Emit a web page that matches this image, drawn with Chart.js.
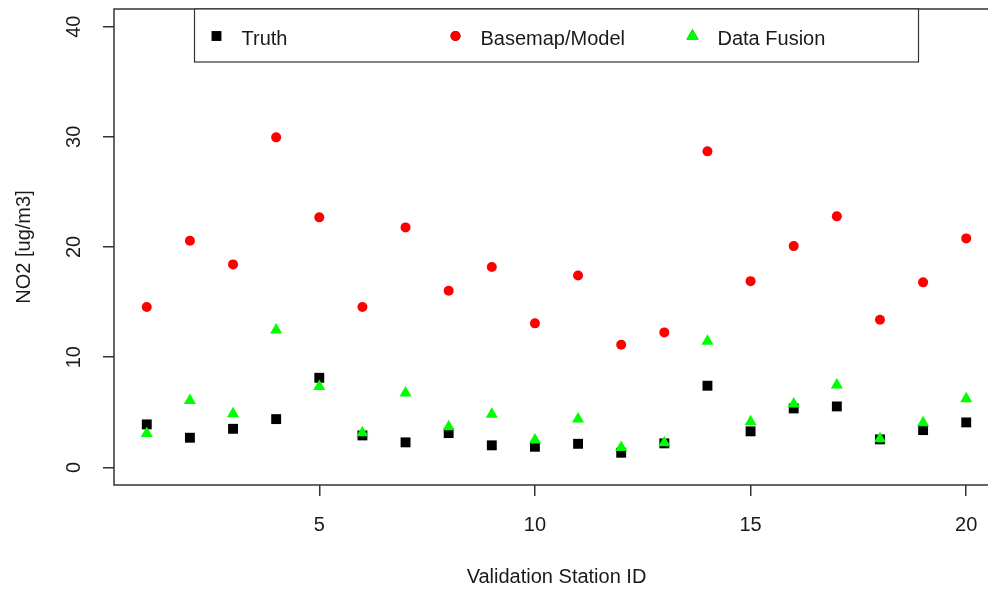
<!DOCTYPE html>
<html>
<head>
<meta charset="utf-8">
<script src="https://cdn.jsdelivr.net/npm/chart.js@4"></script>
<style>
  html, body { margin: 0; padding: 0; background: #fff; overflow: hidden; }
</style>
</head>
<body>
<canvas id="myChart" width="1006" height="590"></canvas>
<script>
// NO2 per validation station
var stationIds = [1, 2, 3, 4, 5, 6, 7, 8, 9, 10, 11, 12, 13, 14, 15, 16, 17, 18, 19, 20];
var truth    = [3.9, 2.69, 3.5, 4.38, 8.13, 2.9, 2.27, 3.11, 2.0, 1.87, 2.14, 1.33, 2.18, 7.41, 3.27, 5.35, 5.53, 2.54, 3.38, 4.08];
var basemap  = [14.55, 20.56, 18.42, 29.95, 22.69, 14.55, 21.78, 16.03, 18.18, 13.07, 17.42, 11.13, 12.25, 28.68, 16.9, 20.08, 22.78, 13.4, 16.79, 20.78];
var fusion   = [3.08, 6.08, 4.87, 12.46, 7.35, 3.14, 6.75, 3.69, 4.81, 2.48, 4.39, 1.81, 2.24, 11.45, 4.14, 5.75, 7.47, 2.6, 4.05, 6.23];
var seriesNames = ['Truth', 'Basemap/Model', 'Data Fusion'];
var xTicks = [5, 10, 15, 20];
var yTicks = [0, 10, 20, 30, 40];

function toPoints(values) {
  return values.map(function (v, i) { return { x: stationIds[i], y: v }; });
}

var axisColor = '#333';
var textColor = '#1a1a1a';
var font = { family: "'Liberation Sans', Arial, sans-serif", size: 20 };

// legend box inside the plot, like R's legend("top", horiz = TRUE)
var boxLegend = {
  id: 'boxLegend',
  afterDatasetsDraw: function (chart) {
    var ctx = chart.ctx;
    var area = chart.chartArea;
    var cx = (area.left + area.right) / 2;
    var left = cx - 362, top = area.top, bottom = area.top + 53;
    var offsets = [22, 261, 498];
    ctx.save();
    ctx.fillStyle = '#fff';
    ctx.fillRect(left, top, 724, bottom - top);
    ctx.strokeStyle = axisColor;
    ctx.lineWidth = 1.2;
    ctx.strokeRect(left, top, 724, bottom - top);
    chart.data.datasets.forEach(function (ds, i) {
      var mx = left + offsets[i];
      Chart.helpers.drawPoint(ctx, {
        pointStyle: ds.pointStyle,
        radius: ds.pointRadius,
        rotation: 0,
        borderWidth: 0
      }, mx, top + 27);
      ctx.fillStyle = ds.backgroundColor;
      ctx.fill();
      ctx.fillStyle = textColor;
      ctx.font = font.size + 'px ' + font.family;
      ctx.textBaseline = 'alphabetic';
      ctx.textAlign = 'left';
      ctx.fillText(ds.label, mx + 25, top + 36);
    });
    ctx.restore();
  }
};

// plot frame
var frame = {
  id: 'frame',
  beforeDatasetsDraw: function (chart) {
    var a = chart.chartArea;
    var ctx = chart.ctx;
    ctx.save();
    ctx.strokeStyle = axisColor;
    ctx.lineWidth = 1.5;
    ctx.strokeRect(a.left, a.top, a.right - a.left, a.bottom - a.top);
    ctx.restore();
  }
};

var ctx = document.getElementById('myChart').getContext('2d');
var myChart = new Chart(ctx, {
  type: 'scatter',
  data: {
    datasets: [
      {
        label: seriesNames[0],
        data: toPoints(truth),
        pointStyle: 'rect',
        pointRadius: 7,
        backgroundColor: '#000000',
        borderColor: '#000000',
        borderWidth: 0,
        order: 2
      },
      {
        label: seriesNames[1],
        data: toPoints(basemap),
        pointStyle: 'circle',
        pointRadius: 5,
        backgroundColor: '#ff0000',
        borderColor: '#ff0000',
        borderWidth: 0,
        order: 1
      },
      {
        label: seriesNames[2],
        data: toPoints(fusion),
        pointStyle: 'triangle',
        pointRadius: 7,
        backgroundColor: '#00ff00',
        borderColor: '#00ff00',
        borderWidth: 0,
        order: 0
      }
    ]
  },
  options: {
    responsive: false,
    animation: false,
    devicePixelRatio: 1,
    layout: { padding: { left: 0, right: 0, top: 9, bottom: 0 } },
    plugins: {
      legend: { display: false },
      tooltip: { enabled: false }
    },
    elements: { point: { hoverRadius: 7 } },
    scales: {
      x: {
        type: 'linear',
        min: 0.24,
        max: 20.76,
        afterBuildTicks: function (s) { s.ticks = xTicks.map(function (v) { return { value: v }; }); },
        afterFit: function (s) { s.height = 105; s.paddingLeft = 0; s.paddingRight = 0; },
        border: { display: false },
        grid: { drawOnChartArea: false, drawTicks: true, tickLength: 11, color: axisColor, lineWidth: 1.5 },
        ticks: { color: textColor, font: font, padding: 17, maxRotation: 0 },
        title: { display: true, text: 'Validation Station ID', color: textColor, font: font, padding: { top: 0, bottom: 1 } }
      },
      y: {
        type: 'linear',
        min: -1.6,
        max: 41.6,
        afterBuildTicks: function (s) { s.ticks = yTicks.map(function (v) { return { value: v }; }); },
        afterFit: function (s) { s.width = 114; s.paddingTop = 0; s.paddingBottom = 0; },
        border: { display: false },
        grid: { drawOnChartArea: false, drawTicks: true, tickLength: 11, color: axisColor, lineWidth: 1.5 },
        ticks: { color: textColor, font: font, padding: 17, minRotation: 90, maxRotation: 90, crossAlign: 'center' },
        title: { display: true, text: 'NO2 [ug/m3]', color: textColor, font: font, padding: { top: 12, bottom: 0 } }
      }
    }
  },
  plugins: [frame, boxLegend]
});
</script>
</body>
</html>
